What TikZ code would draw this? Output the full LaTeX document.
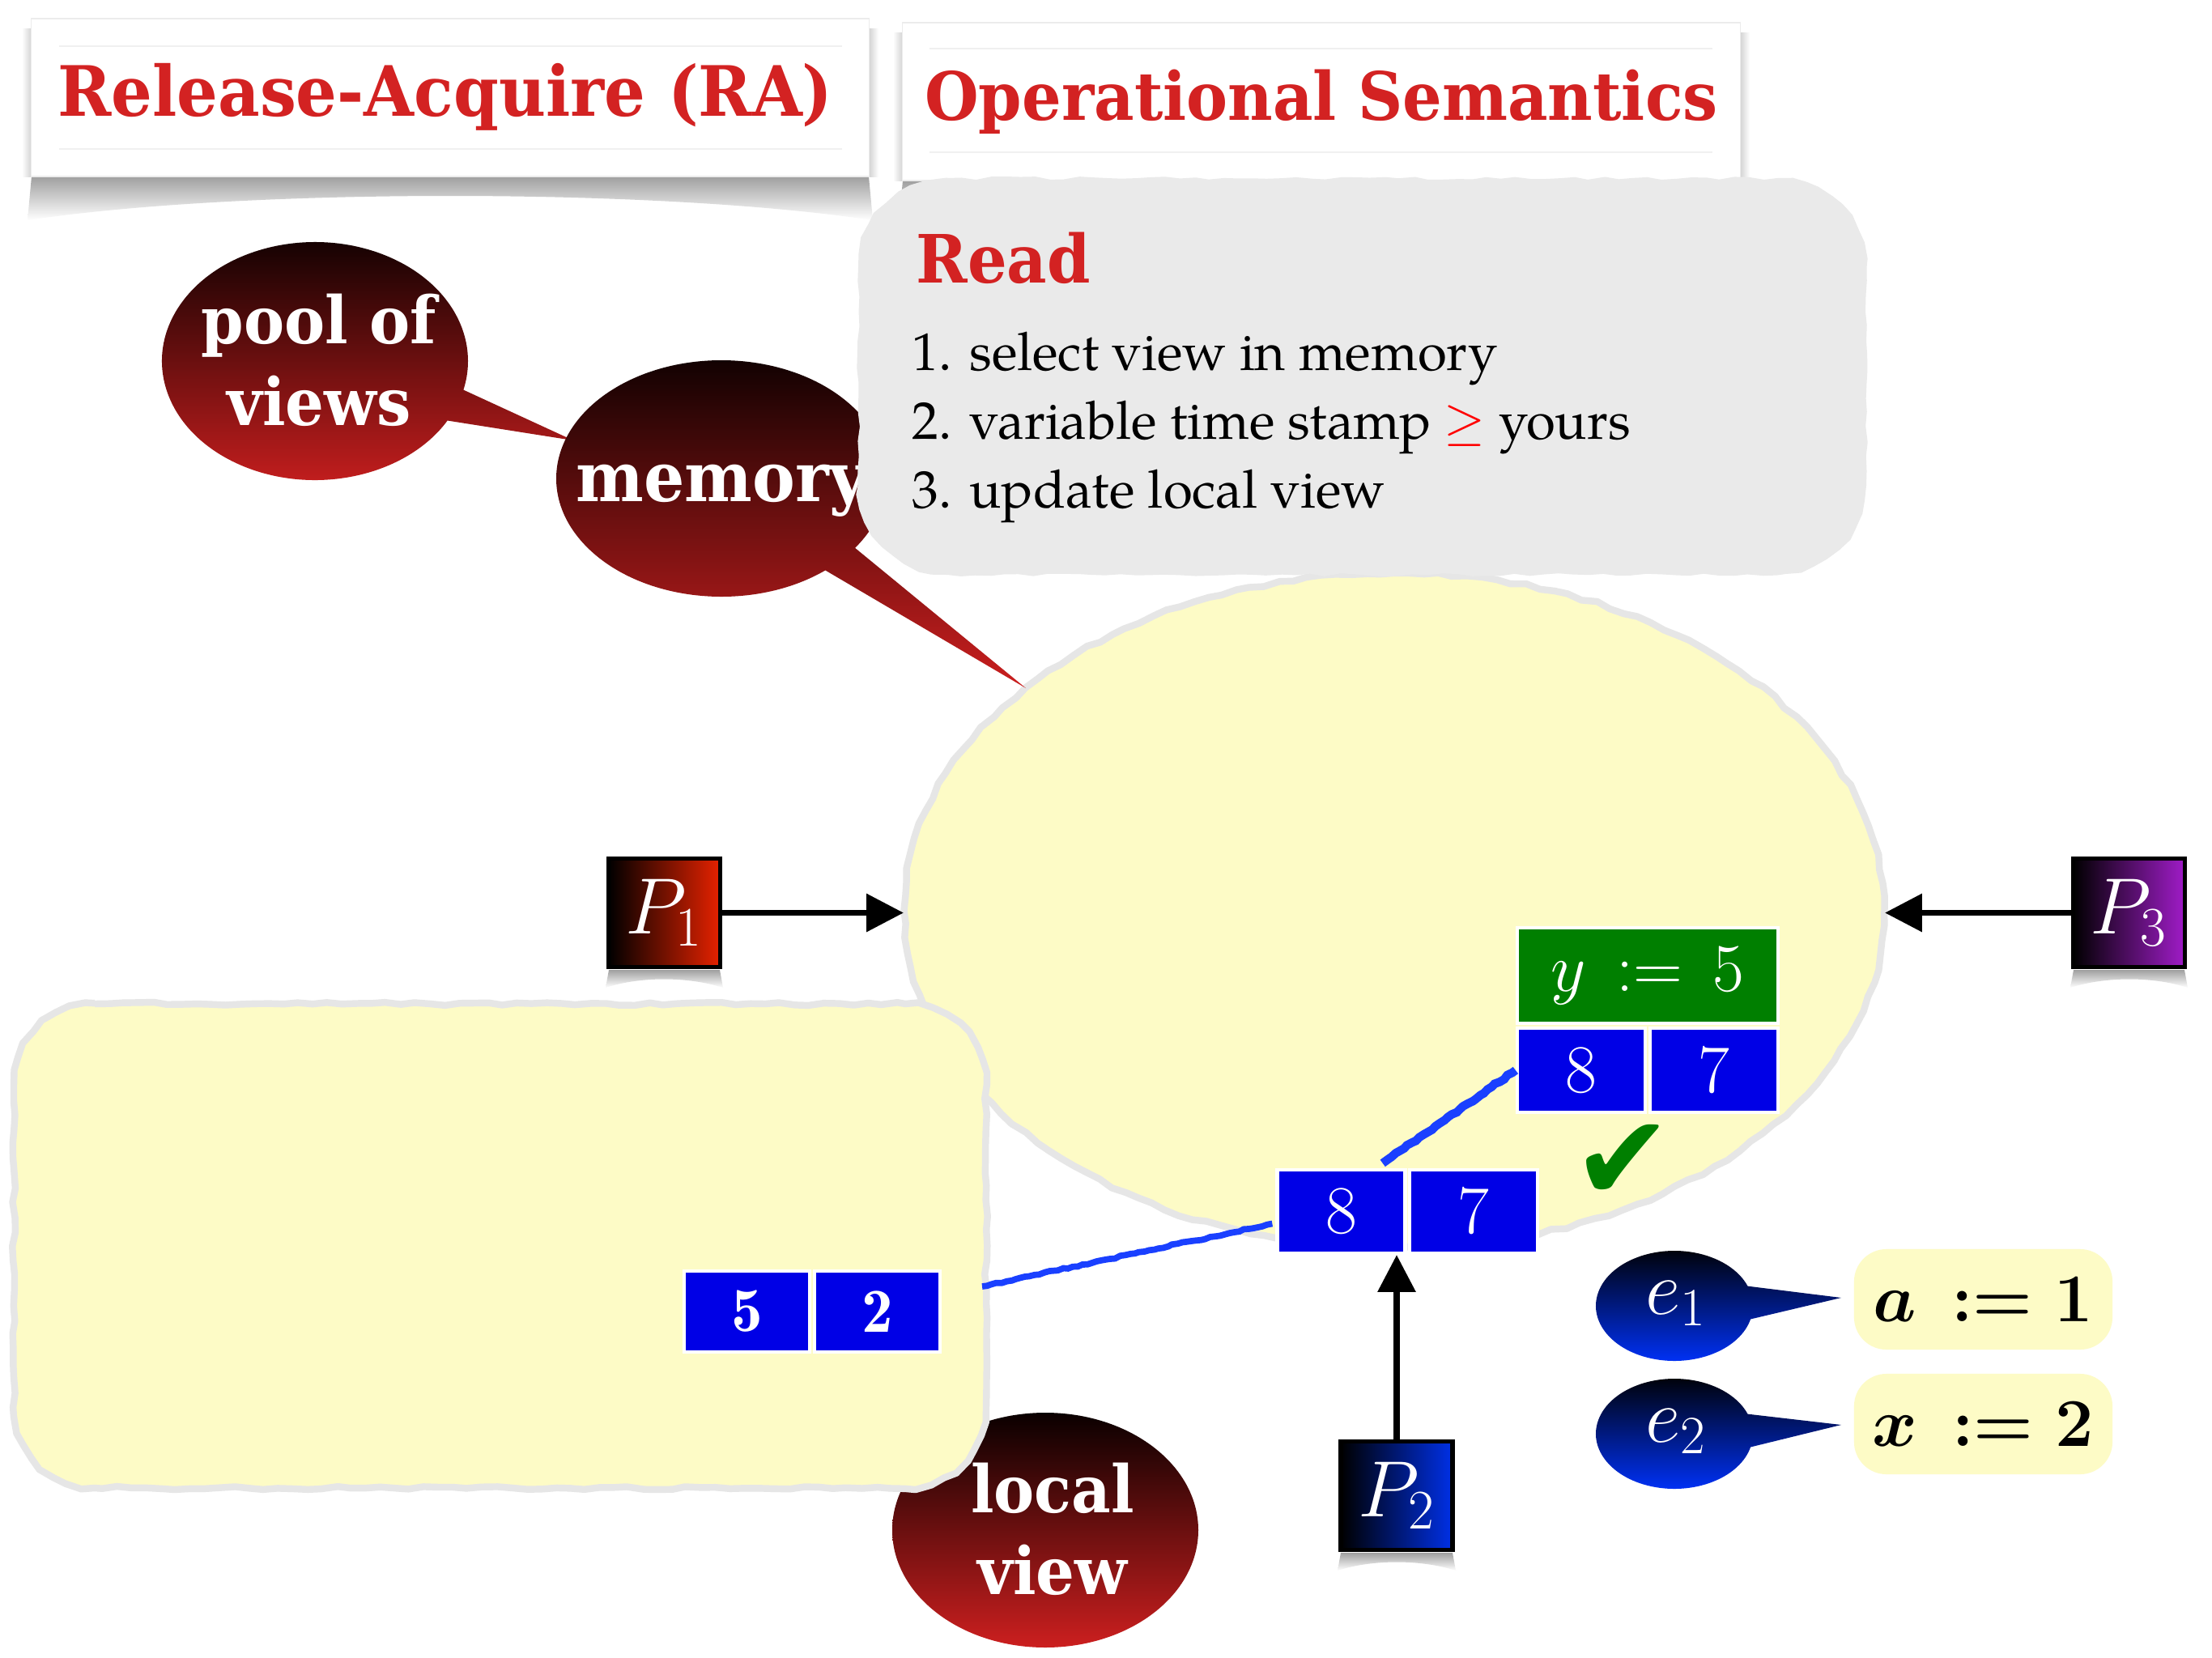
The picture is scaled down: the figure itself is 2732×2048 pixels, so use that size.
\RequirePackage{fix-cm}
\documentclass[tikz,border=0pt]{standalone}
\usepackage{fontspec}
\usetikzlibrary{shapes.geometric,arrows.meta,decorations.pathmorphing,calc}
\newfontfamily\slab{DejaVu Serif}[FakeStretch=0.93]
\newfontfamily\symf{DejaVu Sans}
\newfontfamily\pala{TeX Gyre Pagella}
\definecolor{tred}{HTML}{D32222}
\definecolor{memyel}{HTML}{FDFBC6}
\definecolor{bordgray}{HTML}{E6E6E6}
\definecolor{cloudgray}{HTML}{EAEAEA}
\definecolor{cellblue}{HTML}{0000E6}
\definecolor{cellgreen}{HTML}{007F00}
\definecolor{bubred}{HTML}{CC1F1F}
\definecolor{bubdark}{HTML}{0A0000}
\definecolor{ebblue}{HTML}{0033FF}
\definecolor{p1red}{HTML}{E62200}
\definecolor{p2blue}{HTML}{0030E6}
\definecolor{p3purple}{HTML}{A01CC8}
\definecolor{scrib}{HTML}{1A40FF}
\begin{document}
\begin{tikzpicture}[x=0.01cm, y=-0.01cm,
  titlebox/.style={draw=gray!15, line width=0.4pt, fill=white, inner sep=0},
  ruleline/.style={draw=gray!12, line width=0.6pt},
  titletext/.style={text=tred, font=\slab\bfseries\fontsize{23.4}{27}\selectfont, inner sep=0, anchor=base},
  itemtext/.style={font=\pala\fontsize{18.6}{22}\selectfont, inner sep=0, anchor=base west},
  wobble/.style={decorate, decoration={random steps, segment length=0.18cm, amplitude=0.02cm}},
  yelshape/.style={fill=memyel, draw=bordgray, line width=2.4pt, line join=round, wobble},
  cloudshape/.style={fill=cloudgray, wobble},
  bubtext/.style={text=white, font=\slab\bfseries\fontsize{23}{23}\selectfont, inner sep=0, anchor=base},
  redbub/.style={top color=bubdark, bottom color=bubred},
  bluebub/.style={top color=black, bottom color=ebblue},
  cellbox/.style={fill=cellblue, draw=white, line width=1.2pt, inner sep=0, text=white, font=\fontsize{24}{24}\selectfont, minimum width=1.57cm, minimum height=1.03cm},
  pbox/.style={draw=black, line width=1.5pt, inner sep=0, text=white, font=\fontsize{28}{28}\selectfont, minimum width=1.38cm, minimum height=1.34cm},
  parrow/.style={line width=2pt, -{Triangle[length=13pt,width=13pt]}},
  scribble/.style={draw=scrib, line width=3pt, decorate, decoration={random steps, segment length=0.06cm, amplitude=0.012cm}},
  codebox/.style={fill=memyel, rounded corners=0.4cm, minimum width=3.19cm, minimum height=1.24cm, inner sep=0, font=\fontsize{24}{24}\selectfont\boldmath},
  etext/.style={text=white, font=\fontsize{27}{27}\selectfont, inner sep=0},
  pshadow/.style={top color=gray!75, bottom color=white},
]
\pgfmathsetseed{7}
\fill[white] (0,0) rectangle (2732,2048);
\useasboundingbox (0,0) rectangle (2732,2048);

% ---------- title 1 ----------
\shade[pshadow] (39,218) -- (34,272) .. controls (300,232) and (812,232) .. (1078,272) -- (1073,218) -- cycle;
\shade[left color=white, right color=gray!35] (27,35) rectangle (39,218);
\shade[left color=gray!35, right color=white] (1073,35) rectangle (1085,218);
\node[titlebox, minimum width=10.34cm, minimum height=1.95cm] (t1box) at (556,120.5) {};
\draw[ruleline] (73,57) -- (1040,57);
\draw[ruleline] (73,184) -- (1040,184);
\node[titletext, font=\slab\bfseries\fontsize{24.4}{28}\selectfont] (t1) at (550,143) {Release-Acquire (RA)};

% ---------- title 2 ----------
\shade[pshadow] (1115,223) -- (1110,277) .. controls (1376,237) and (1888,237) .. (2154,277) -- (2149,223) -- cycle;
\shade[left color=white, right color=gray!35] (1103,40) rectangle (1115,223);
\shade[left color=gray!35, right color=white] (2149,40) rectangle (2161,223);
\node[titlebox, minimum width=10.34cm, minimum height=1.95cm] (t2box) at (1632,125.5) {};
\draw[ruleline] (1148,60) -- (2115,60);
\draw[ruleline] (1148,188) -- (2115,188);
\node[titletext] (t2) at (1632,148) {Operational Semantics};

% ---------- memory ellipse ----------
\node[ellipse, minimum width=12.1cm, minimum height=8.34cm, inner sep=0] (mem) at (1722,1125) {};
\path[yelshape] (1722,1125) ellipse [x radius=605, y radius=417];

% ---------- local view bubble + rect ----------
\shade[redbub] (1291,1890) ellipse [x radius=189, y radius=145];
\node[bubtext] (lvt1) at (1300,1868) {local};
\node[bubtext] (lvt2) at (1300,1969) {view};
\path[yelshape] (117,1240) -- (1118,1240) arc[start angle=-90,end angle=0,radius=100]
  -- (1218,1738) arc[start angle=0,end angle=90,radius=100]
  -- (117,1838) arc[start angle=90,end angle=180,radius=100]
  -- (17,1340) arc[start angle=180,end angle=270,radius=100] -- cycle;
\node[ellipse, minimum width=3.78cm, minimum height=2.9cm, inner sep=0] (lvbub) at (1291,1890) {};

% ---------- pool of views / memory bubbles ----------
\coordinate (poolc) at (389,446);
\shade[redbub] ($(poolc)+(14:189 and 147)$) -- (708,544) -- ($(poolc)+(30:189 and 147)$)
  arc[start angle=30, end angle=374, x radius=189, y radius=147] -- cycle;
\node[bubtext] (pool1) at (394,424) {pool of};
\node[bubtext] (pool2) at (394,525) {views};
\coordinate (memc) at (891,591);
\shade[redbub] ($(memc)+(36:204 and 146)$) -- (1267,850) -- ($(memc)+(51:204 and 146)$)
  arc[start angle=51, end angle=396, x radius=204, y radius=146] -- cycle;
\node[bubtext, font=\slab\bfseries\fontsize{24.2}{24}\selectfont] (memt) at (891,619) {memory};

% ---------- Read cloud ----------
\path[cloudshape] (1170,220) -- (2195,220) arc[start angle=-90,end angle=0,radius=110]
  -- (2305,600) arc[start angle=0,end angle=90,radius=110]
  -- (1170,710) arc[start angle=90,end angle=180,radius=110]
  -- (1060,330) arc[start angle=180,end angle=270,radius=110] -- cycle;
\node[titletext, anchor=base west] (rd) at (1131,349) {Read};
\node[itemtext] (i1) at (1126,457) {1. select view in memory};
\node[itemtext] (i2) at (1126,542) {2. variable time stamp \textcolor{red}{$\geq$} yours};
\node[itemtext] (i3) at (1126,627) {3. update local view};

% ---------- cells ----------
\node[cellbox, fill=cellgreen, minimum width=3.22cm, minimum height=1.18cm] (hiy) at (2035,1205) {$y\,:=\,5$};
\node[cellbox, minimum width=1.58cm, minimum height=1.04cm] (hi8) at (1953,1322) {$8$};
\node[cellbox, minimum width=1.58cm, minimum height=1.04cm] (hi7) at (2117,1322) {$7$};
\node[cellbox, minimum width=1.58cm] (lo8) at (1656.5,1496.5) {$8$};
\node[cellbox, minimum width=1.58cm] (lo7) at (1820,1496.5) {$7$};
\node[cellbox, minimum width=1.55cm, minimum height=1.0cm, font=\fontsize{22}{22}\selectfont] (c5) at (922.5,1620) {$\mathbf{5}$};
\node[cellbox, minimum width=1.55cm, minimum height=1.0cm, font=\fontsize{22}{22}\selectfont] (c2) at (1083.5,1620) {$\mathbf{2}$};
\node[text=cellgreen, font=\symf\fontsize{42}{42}\selectfont, inner sep=0] (chk) at (2004,1436) {✔};

% ---------- scribbles ----------
\coordinate (lvend) at (1213,1589);
\draw[scribble] (hi8.west) -- ($(lo8.north east)+(-30,-6)$);
\draw[scribble, line width=2.2pt] ($(lo8.west)+(-4,15)$) -- (lvend);

% ---------- processes ----------
\shade[pshadow] (752,1198) -- (748,1220) .. controls (790,1206) and (850,1206) .. (893,1220) -- (889,1198) -- cycle;
\shade[pshadow] (2561,1198) -- (2557,1220) .. controls (2600,1206) and (2660,1206) .. (2702,1220) -- (2698,1198) -- cycle;
\shade[pshadow] (1656,1918) -- (1652,1940) .. controls (1695,1926) and (1755,1926) .. (1798,1940) -- (1794,1918) -- cycle;
\node[pbox, left color=black, right color=p1red] (p1) at (820.5,1127.5) {$P_1$};
\node[pbox, left color=black, right color=p3purple] (p3) at (2629.5,1127.5) {$P_3$};
\node[pbox, left color=black, right color=p2blue] (p2) at (1725,1847.5) {$P_2$};
\draw[parrow] (p1.east) -- (p1.east -| mem.west);
\draw[parrow] (p3.west) -- (p3.west -| mem.east);
\draw[parrow] (p2.north) -- (p2.north |- lo8.south);

% ---------- events ----------
\coordinate (e1c) at (2068,1613);
\shade[bluebub] ($(e1c)+(-21:97 and 68)$) -- (2274,1603) -- ($(e1c)+(14:97 and 68)$)
  arc[start angle=14, end angle=339, x radius=97, y radius=68] -- cycle;
\node[etext] (e1) at (2070,1610) {$e_1$};
\coordinate (e2c) at (2068,1771);
\shade[bluebub] ($(e2c)+(-21:97 and 68)$) -- (2274,1760) -- ($(e2c)+(14:97 and 68)$)
  arc[start angle=14, end angle=339, x radius=97, y radius=68] -- cycle;
\node[etext] (e2) at (2070,1768) {$e_2$};
\node[codebox] (a1) at (2449.5,1605) {$a\,:=1$};
\node[codebox] (x2) at (2449.5,1759) {$x\,:=2$};
\end{tikzpicture}
\end{document}
